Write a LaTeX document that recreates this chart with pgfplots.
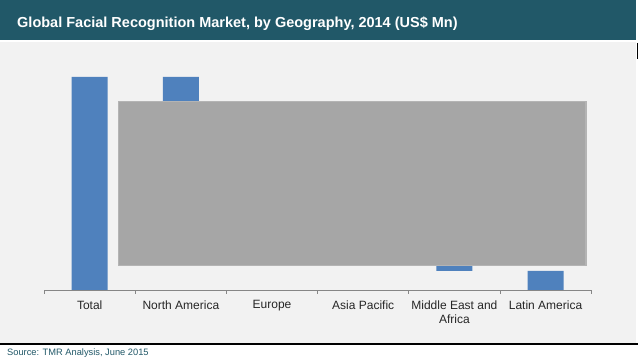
\documentclass[border=0pt]{standalone}
\usepackage{fontspec}
\setmainfont{Liberation Sans}
\usepackage{pgfplots}
\pgfplotsset{compat=1.18}
\definecolor{titlebar}{HTML}{215868}
\definecolor{barblue}{HTML}{4F81BD}
\definecolor{plotbg}{HTML}{F2F2F2}
\definecolor{boxgray}{HTML}{A6A6A6}
\definecolor{boxedge}{HTML}{B4B4B4}
\definecolor{axisgray}{HTML}{868686}
\begin{document}
\begin{tikzpicture}[x=1pt,y=1pt]
\useasboundingbox (0,0) rectangle (638,-358);
\fill[white] (0,0) rectangle (638,-358);
\fill[titlebar] (0,0) rectangle (636,-40);
\fill[plotbg] (0,-42) rectangle (636,-343);
\draw[black,line width=2.5pt] (0,-344) -- (638,-344);
\draw[black,line width=1pt] (637,-43) -- (637,-59);
\node[anchor=base west,text=white,font=\bfseries\fontsize{14.5}{17}\selectfont,inner sep=0] at (17,-27.3) {Global Facial Recognition Market, by Geography, 2014 (US\$ Mn)};
\node[anchor=base west,text=titlebar,font=\fontsize{9.3}{11}\selectfont,inner sep=0] at (7,-355.5) {Source: TMR Analysis, June 2015};
\begin{axis}[
  at={(48.4,-290)}, anchor=south west,
  scale only axis, width=547pt, height=213pt,
  xmin=-0.5, xmax=5.5, ymin=0, ymax=213,
  ybar stacked, bar width=36pt,
  axis x line*=bottom, axis y line=none,
  x axis line style={-, axisgray, line width=0.8pt},
  xtick={0,...,5},
  xticklabels={Total, North America, Europe, Asia Pacific, {Middle East and\\Africa}, Latin America},
  major tick length=0pt,
  minor xtick={-0.5,0.5,...,5.5},
  minor tick length=4pt,
  tick align=outside,
  minor tick style={axisgray, line width=0.8pt},
  xticklabel style={font=\fontsize{12}{14}\selectfont, text=black!85, align=center, yshift=-7pt},
  clip=false,
]
\addplot[draw=none,fill=none] coordinates {(0,0) (1,120) (2,68) (3,30) (4,19) (5,0)};
\addplot[fill=barblue,draw=none] coordinates {(0,213) (1,93) (2,52) (3,38) (4,11) (5,19)};
\end{axis}
\filldraw[fill=boxgray, draw=boxedge, line width=1.5pt] (118.5,-101.5) rectangle (586,-265.5);
\end{tikzpicture}
\end{document}
